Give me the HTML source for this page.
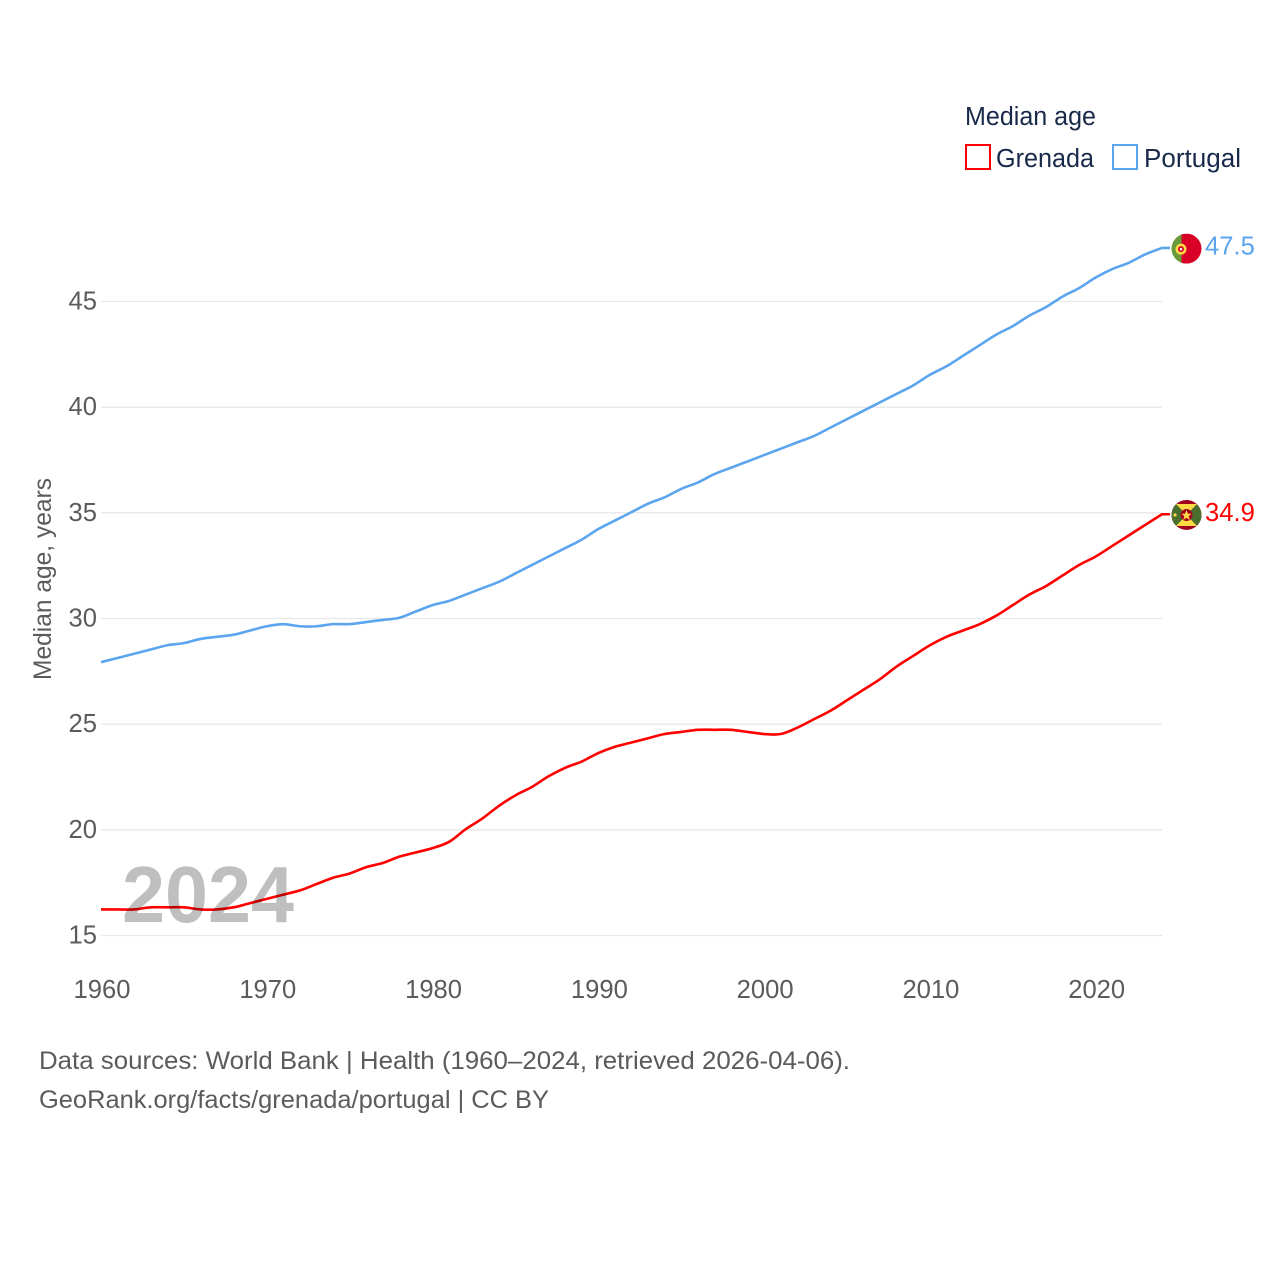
<!DOCTYPE html>
<html lang="en">
<head>
<meta charset="utf-8">
<title>Median age: Grenada and Portugal</title>
<style>
  html, body { margin: 0; padding: 0; background: #fff; }
  svg { display: block; font-family: "Liberation Sans", sans-serif; }
  .tick { font-size: 25.6px; fill: #5b5b5b; }
  .src { font-size: 25px; fill: #5b5b5b; }
  .leg { font-size: 25.5px; fill: #18294a; }
</style>
</head>
<body>
<svg id="chart" width="1280" height="1280" viewBox="0 0 1280 1280" xmlns="http://www.w3.org/2000/svg">
  <defs>
    <clipPath id="flag-clip-pt"><circle id="clip-pt" cx="1186.5" cy="248" r="15"></circle></clipPath>
    <clipPath id="flag-clip-gd"><circle id="clip-gd" cx="1186.5" cy="514" r="15"></circle></clipPath>
  </defs>
  <rect width="1280" height="1280" fill="#fff"></rect>

  <g id="grid"></g>
  <g id="y-ticks"></g>
  <g id="x-ticks"></g>

  <text transform="translate(51 579) rotate(-90)" text-anchor="middle" font-size="25" fill="#5b5b5b" textLength="202" lengthAdjust="spacingAndGlyphs">Median age, years</text>

  <g id="series"></g>

  <text x="122" y="922" font-size="80" font-weight="700" fill="#000" fill-opacity="0.25" textLength="172" lengthAdjust="spacingAndGlyphs">2024</text>

  <g id="flag-portugal" clip-path="url(#flag-clip-pt)">
    <g id="flag-pt-inner">
      <rect x="1171" y="233" width="12" height="30" fill="#6a9a3a"></rect>
      <rect x="1181.5" y="233" width="20" height="30" fill="#d80027"></rect>
      <circle cx="1181" cy="248.5" r="5.5" fill="#ffda44"></circle>
      <circle cx="1181" cy="248.5" r="3" fill="#d80027"></circle>
      <circle cx="1181" cy="248.5" r="1.3" fill="#f0f0f0"></circle>
    </g>
  </g>
  <g id="flag-grenada" clip-path="url(#flag-clip-gd)">
    <g id="flag-gd-inner">
      <rect x="1171" y="499" width="31" height="30" fill="#a2001d"></rect>
      <rect x="1171" y="503" width="31" height="22" fill="#496e2d"></rect>
      <polygon points="1176,503 1197,503 1186.5,514" fill="#ffda44"></polygon>
      <polygon points="1176,525 1197,525 1186.5,514" fill="#ffda44"></polygon>
      <circle cx="1186.5" cy="514" r="6" fill="#a2001d"></circle>
      <polygon points="1186.5,509 1188,512.8 1191.5,512.8 1188.7,515.2 1189.8,519 1186.5,516.8 1183.2,519 1184.3,515.2 1181.5,512.8 1185,512.8" fill="#ffda44"></polygon>
      <circle cx="1175" cy="514" r="1.6" fill="#ffda44"></circle>
    </g>
  </g>

  <text id="label-portugal" x="1205" y="254" font-size="25.6" fill="#5ba4ee"></text>
  <text id="label-grenada" x="1205" y="520" font-size="25.6" fill="#ff0000"></text>

  <g>
    <text class="leg" x="965" y="125" textLength="131" lengthAdjust="spacingAndGlyphs">Median age</text>
    <rect x="966" y="145" width="24" height="24" fill="#fff" stroke="#ff0000" stroke-width="2"></rect>
    <text class="leg" x="996" y="167" textLength="98" lengthAdjust="spacingAndGlyphs">Grenada</text>
    <rect x="1113" y="145" width="24" height="24" fill="#fff" stroke="#5ba4ee" stroke-width="2"></rect>
    <text class="leg" x="1144" y="167" textLength="97" lengthAdjust="spacingAndGlyphs">Portugal</text>
  </g>

  <text class="src" x="39" y="1069" textLength="811" lengthAdjust="spacingAndGlyphs">Data sources: World Bank | Health (1960–2024, retrieved 2026-04-06).</text>
  <text class="src" x="39" y="1108" textLength="510" lengthAdjust="spacingAndGlyphs">GeoRank.org/facts/grenada/portugal | CC BY</text>
</svg>

<script>
const startYear = 1960;
const xTickYears = [1960, 1970, 1980, 1990, 2000, 2010, 2020];
const yTickValues = [15, 20, 25, 30, 35, 40, 45];
const portugalValues = [
  27.9, 28.1, 28.3, 28.5, 28.7, 28.8, 29.0, 29.1, 29.2, 29.4,
  29.6, 29.7, 29.6, 29.6, 29.7, 29.7, 29.8, 29.9, 30.0, 30.3,
  30.6, 30.8, 31.1, 31.4, 31.7, 32.1, 32.5, 32.9, 33.3, 33.7,
  34.2, 34.6, 35.0, 35.4, 35.7, 36.1, 36.4, 36.8, 37.1, 37.4,
  37.7, 38.0, 38.3, 38.6, 39.0, 39.4, 39.8, 40.2, 40.6, 41.0,
  41.5, 41.9, 42.4, 42.9, 43.4, 43.8, 44.3, 44.7, 45.2, 45.6,
  46.1, 46.5, 46.8, 47.2, 47.5
];
const grenadaValues = [
  16.2, 16.2, 16.2, 16.3, 16.3, 16.3, 16.2, 16.2, 16.3, 16.5,
  16.7, 16.9, 17.1, 17.4, 17.7, 17.9, 18.2, 18.4, 18.7, 18.9,
  19.1, 19.4, 20.0, 20.5, 21.1, 21.6, 22.0, 22.5, 22.9, 23.2,
  23.6, 23.9, 24.1, 24.3, 24.5, 24.6, 24.7, 24.7, 24.7, 24.6,
  24.5, 24.5, 24.8, 25.2, 25.6, 26.1, 26.6, 27.1, 27.7, 28.2,
  28.7, 29.1, 29.4, 29.7, 30.1, 30.6, 31.1, 31.5, 32.0, 32.5,
  32.9, 33.4, 33.9, 34.4, 34.9
];

const NS = 'http://www.w3.org/2000/svg';
const xScale = function (year) { return 101 + (year - 1960) * (1162 - 101) / 64; };
const yScale = function (v) { return 935.5 - (v - 15) * (935.5 - 301.5) / 30; };
const LINE_SHIFT = -0.7;
const PORTUGAL_COLOR = '#5ba4ee';
const GRENADA_COLOR = '#ff0000';

const gridGroup = document.getElementById('grid');
const yGroup = document.getElementById('y-ticks');
const xGroup = document.getElementById('x-ticks');
const seriesGroup = document.getElementById('series');

yTickValues.forEach(function (v) {
  const line = document.createElementNS(NS, 'line');
  
  
  line.setAttribute('x1', 101);
  line.setAttribute('x2', 1162);
  line.setAttribute('y1', yScale(v));
  line.setAttribute('y2', yScale(v));
  line.setAttribute('stroke', '#e8e8e8');
  line.setAttribute('stroke-width', '1.3');
  gridGroup.appendChild(line);

  const label = document.createElementNS(NS, 'text');
  
  
  label.setAttribute('class', 'tick');
  label.setAttribute('x', 97);
  label.setAttribute('y', yScale(v) + 8);
  label.setAttribute('text-anchor', 'end');
  label.textContent = String(v);
  yGroup.appendChild(label);
});

xTickYears.forEach(function (year) {
  const label = document.createElementNS(NS, 'text');
  
  
  label.setAttribute('class', 'tick');
  label.setAttribute('x', xScale(year) + 1);
  label.setAttribute('y', 998);
  label.setAttribute('text-anchor', 'middle');
  label.textContent = String(year);
  xGroup.appendChild(label);
});

function pathFor(values) {
  const pts = values.map(function (v, i) {
    return [xScale(startYear + i), yScale(v) + LINE_SHIFT];
  });
  let d = 'M' + pts[0][0].toFixed(2) + ',' + pts[0][1].toFixed(2);
  for (let i = 0; i < pts.length - 1; i++) {
    const p0 = pts[Math.max(i - 1, 0)];
    const p1 = pts[i];
    const p2 = pts[i + 1];
    const p3 = pts[Math.min(i + 2, pts.length - 1)];
    const c1x = p1[0] + (p2[0] - p0[0]) / 6;
    const c1y = p1[1] + (p2[1] - p0[1]) / 6;
    const c2x = p2[0] - (p3[0] - p1[0]) / 6;
    const c2y = p2[1] - (p3[1] - p1[1]) / 6;
    d += 'C' + c1x.toFixed(2) + ',' + c1y.toFixed(2) + ' ' + c2x.toFixed(2) + ',' + c2y.toFixed(2) + ' ' + p2[0].toFixed(2) + ',' + p2[1].toFixed(2);
  }
  d += 'L1170,' + pts[pts.length - 1][1].toFixed(2);
  return d;
}

const portugalLine = document.createElementNS(NS, 'path');


portugalLine.setAttribute('d', pathFor(portugalValues));
portugalLine.setAttribute('fill', 'none');
portugalLine.setAttribute('stroke', PORTUGAL_COLOR);
portugalLine.setAttribute('stroke-width', '2.6');
portugalLine.setAttribute('stroke-linejoin', 'round');
seriesGroup.appendChild(portugalLine);

const grenadaLine = document.createElementNS(NS, 'path');


grenadaLine.setAttribute('d', pathFor(grenadaValues));
grenadaLine.setAttribute('fill', 'none');
grenadaLine.setAttribute('stroke', GRENADA_COLOR);
grenadaLine.setAttribute('stroke-width', '2.6');
grenadaLine.setAttribute('stroke-linejoin', 'round');
seriesGroup.appendChild(grenadaLine);

function placeEnd(values, labelId, innerId, clipId, baseY) {
  const last = values[values.length - 1];
  const y = yScale(last);
  const label = document.getElementById(labelId);
  label.textContent = last.toFixed(1);
  label.setAttribute('y', (y + 6).toFixed(2));
  document.getElementById(clipId).setAttribute('cy', y.toFixed(2));
  document.getElementById(innerId).setAttribute('transform', 'translate(0 ' + (y - baseY).toFixed(2) + ')');
}
placeEnd(portugalValues, 'label-portugal', 'flag-pt-inner', 'clip-pt', 248);
placeEnd(grenadaValues, 'label-grenada', 'flag-gd-inner', 'clip-gd', 514);
</script>
</body>
</html>
